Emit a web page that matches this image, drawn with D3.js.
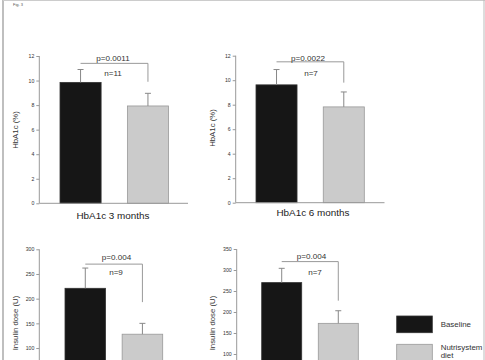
<!DOCTYPE html>
<html><head><meta charset="utf-8">
<script src="https://cdn.jsdelivr.net/npm/d3@7"></script>
<style>html,body{margin:0;padding:0;background:#fff;}svg{display:block;font-family:"Liberation Sans",Arial,sans-serif;}</style>
</head><body>
<script>
// ---- data ----
const groups = ["Baseline", "Nutrisystem diet"];
const hba1c3Mean = [9.85, 7.93];
const hba1c3SD = [1.05, 1.03];
const hba1c6Mean = [9.62, 7.82];
const hba1c6SD = [1.25, 1.22];
const insulin3Mean = [221, 128];
const insulin3SD = [41, 22];
const insulin6Mean = [270, 173];
const insulin6SD = [34, 30];
const hbaTicks = [0, 2, 4, 6, 8, 10, 12];
const insulin3Ticks = [100, 150, 200, 250, 300];
const insulin6Ticks = [100, 150, 200, 250, 300, 350];
const pLabels = ["p=0.0011", "p=0.0022", "p=0.004", "p=0.004"];
const nLabels = ["n=11", "n=7", "n=9", "n=7"];
const bracketTop = [11.4, 11.5, 270, 320];
const bracketEnd = [9.9, 9.8, 193, 227];
const panelTitles = ["HbA1c 3 months", "HbA1c 6 months", "", ""];
const yLabels = ["HbA1c (%)", "HbA1c (%)", "Insulin dose (U)", "Insulin dose (U)"];

const W = 485, H = 360;
const svg = d3.select("body").append("svg").attr("width", W).attr("height", H);

// page border
svg.append("line").attr("x1", 3).attr("x2", 3).attr("y1", 0).attr("y2", H).attr("stroke", "#aaa").attr("stroke-width", 1.5);
svg.append("line").attr("x1", 3).attr("x2", W).attr("y1", 0.5).attr("y2", 0.5).attr("stroke", "#ccc").attr("stroke-width", 1);
svg.append("line").attr("x1", 484).attr("x2", 484).attr("y1", 0).attr("y2", H).attr("stroke", "#bbb").attr("stroke-width", 1);
svg.append("text").attr("x", 13).attr("y", 6).attr("font-size", 4).attr("fill", "#555").text("Fig. 3");

const panels = [
  {mean: hba1c3Mean, sd: hba1c3SD, ticks: hbaTicks, dom: [0, 12], ax: 39.3, axEnd: 188, y0: 203.3, y1: 56, bars: [60, 168.5], pad: 0.39,
   titleX: 113, titleY: 219.3, labX: 18, labY: 130, pX: 113, pY: 61, nX: 113, nY: 76},
  {mean: hba1c6Mean, sd: hba1c6SD, ticks: hbaTicks, dom: [0, 12], ax: 235.7, axEnd: 384.5, y0: 202.7, y1: 55.7, bars: [256, 364.3], pad: 0.39,
   titleX: 313, titleY: 216.3, labX: 215, labY: 128, pX: 308, pY: 61, nX: 311, nY: 76},
  {mean: insulin3Mean, sd: insulin3SD, ticks: insulin3Ticks, dom: [0, 300], ax: 39.3, axEnd: 188, y0: 397.4, y1: 249.3, bars: [65, 162.7], pad: 0.29,
   titleX: 0, titleY: 0, labX: 18, labY: 323, pX: 116.5, pY: 259.5, nX: 116, nY: 274.5},
  {mean: insulin6Mean, sd: insulin6SD, ticks: insulin6Ticks, dom: [0, 350], ax: 236.7, axEnd: 384.5, y0: 396, y1: 249, bars: [261.7, 358.3], pad: 0.293,
   titleX: 0, titleY: 0, labX: 215, labY: 323, pX: 311.5, pY: 258.5, nX: 315, nY: 274.5}
];
const fills = ["#161616", "#cbcbcb"];
const strokes = ["#333", "#999"];

panels.forEach((p, i) => {
  const g = svg.append("g");
  const y = d3.scaleLinear().domain(p.dom).range([p.y0, p.y1]);
  const x = d3.scaleBand().domain(groups).range(p.bars).paddingInner(p.pad).paddingOuter(0);

  // bars
  g.selectAll("rect.bar").data(groups).join("rect")
    .attr("x", d => x(d)).attr("width", x.bandwidth())
    .attr("y", (d, j) => y(p.mean[j])).attr("height", (d, j) => y(0) - y(p.mean[j]))
    .attr("fill", (d, j) => fills[j]).attr("stroke", (d, j) => strokes[j]).attr("stroke-width", 0.8);

  // error bars
  groups.forEach((d, j) => {
    const cx = x(d) + x.bandwidth() / 2;
    g.append("line").attr("x1", cx).attr("x2", cx).attr("y1", y(p.mean[j])).attr("y2", y(p.mean[j] + p.sd[j])).attr("stroke", "#888").attr("stroke-width", 1);
    g.append("line").attr("x1", cx - 3).attr("x2", cx + 3).attr("y1", y(p.mean[j] + p.sd[j])).attr("y2", y(p.mean[j] + p.sd[j])).attr("stroke", "#888").attr("stroke-width", 1);
  });

  // axes
  const yAxis = d3.axisLeft(y).tickValues(p.ticks).tickSize(3).tickPadding(2);
  const ag = g.append("g").attr("transform", `translate(${p.ax},0)`).call(yAxis);
  ag.select(".domain").attr("stroke", "#999").attr("d", `M-0,${Math.min(p.y0, H + 5)}V${p.y1}`);
  ag.selectAll(".tick line").attr("stroke", "#999");
  ag.selectAll(".tick text").attr("font-size", 5.2).attr("fill", "#333").attr("font-family", "Liberation Sans, Arial, sans-serif");
  g.append("line").attr("x1", p.ax).attr("x2", p.axEnd).attr("y1", p.y0).attr("y2", p.y0).attr("stroke", "#999").attr("stroke-width", 1);

  // y label
  g.append("text").attr("transform", `translate(${p.labX},${p.labY}) rotate(-90)`).attr("text-anchor", "middle")
    .attr("font-size", 7.8).attr("fill", "#333").text(yLabels[i]);

  // bracket
  const cx0 = x(groups[0]) + x.bandwidth() / 2, cx1 = x(groups[1]) + x.bandwidth() / 2;
  g.append("path").attr("d", `M${cx0},${y(bracketTop[i])}H${cx1}V${y(bracketEnd[i])}`).attr("fill", "none").attr("stroke", "#999").attr("stroke-width", 1);
  g.append("text").attr("x", p.pX).attr("y", p.pY).attr("text-anchor", "middle").attr("font-size", 8.1).attr("fill", "#333").text(pLabels[i]);
  g.append("text").attr("x", p.nX).attr("y", p.nY).attr("text-anchor", "middle").attr("font-size", 8.1).attr("fill", "#333").text(nLabels[i]);

  if (panelTitles[i]) {
    g.append("text").attr("x", p.titleX).attr("y", p.titleY).attr("text-anchor", "middle").attr("font-size", 9.9).attr("fill", "#222").text(panelTitles[i]);
  }
});

// legend
const leg = svg.append("g");
const legY = [316, 344.3];
groups.forEach((d, j) => {
  leg.append("rect").attr("x", 396.7).attr("y", legY[j]).attr("width", 35.6).attr("height", 16.7)
    .attr("fill", fills[j]).attr("stroke", strokes[j]).attr("stroke-width", 0.8);
});
leg.append("text").attr("x", 440.7).attr("y", 327).attr("font-size", 7.9).attr("fill", "#333").text("Baseline");
const t2 = leg.append("text").attr("x", 440.7).attr("y", 349.5).attr("font-size", 7.9).attr("fill", "#333");
t2.append("tspan").attr("x", 440.7).attr("dy", 0).text("Nutrisystem");
t2.append("tspan").attr("x", 440.7).attr("dy", 8.5).text("diet");
</script>
</body></html>
